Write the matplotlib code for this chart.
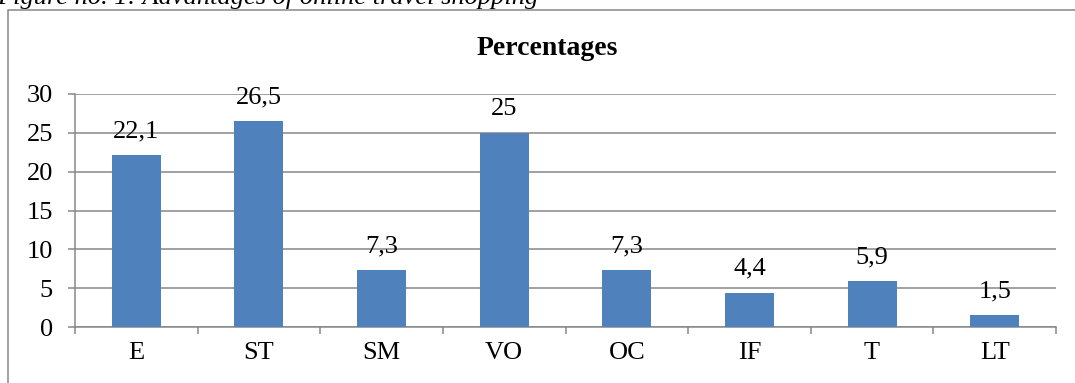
import matplotlib
matplotlib.use("Agg")
import matplotlib.pyplot as plt
from matplotlib.patches import Rectangle
import numpy as np

categories = ["E", "ST", "SM", "VO", "OC", "IF", "T", "LT"]
values = [22.1, 26.5, 7.3, 25, 7.3, 4.4, 5.9, 1.5]
y_ticks = [0, 5, 10, 15, 20, 25, 30]

W, H = 1075, 383
DPI = 100
plt.rcParams["font.family"] = ["Liberation Serif", "DejaVu Serif"]

fig = plt.figure(figsize=(W / DPI, H / DPI), dpi=DPI)
fig.patch.set_facecolor("white")

grey = "#878787"
blue = "#4F81BD"
lw = 1.1

# frame around the chart (runs off the right and bottom edges)
fig.patches.append(Rectangle((8 / W, -0.05), 1.2, 1 - 9.5 / H + 0.05,
                             transform=fig.transFigure, fill=False,
                             edgecolor=grey, linewidth=lw, zorder=0))

# figure caption above the frame
fig.text(-0.003, 1 - 4 / H, "Figure no. 1: Advantages of online travel shopping",
         fontsize=19, fontstyle="italic", ha="left", va="baseline")

left, right = 75 / W, 1056 / W
bottom, top = 1 - 327 / H, 1 - 94 / H
ax = fig.add_axes([left, bottom, right - left, top - bottom])

x = np.arange(len(categories))
ax.bar(x, values, width=0.4, color=blue, zorder=3)

for xi, v in zip(x, values):
    label = f"{v:g}".replace(".", ",")
    ax.annotate(label, (xi, v), xytext=(0, 13), textcoords="offset points",
                ha="center", va="baseline", fontsize=19)

ax.set_xlim(-0.5, len(categories) - 0.5)
ax.set_ylim(0, 30)
ax.set_yticks(y_ticks)
ax.yaxis.grid(True, color=grey, linewidth=lw, zorder=0)
ax.set_axisbelow(True)

ax.set_xticks(x)
ax.set_xticklabels(categories)
ax.set_xticks(np.arange(len(categories) + 1) - 0.5, minor=True)
ax.tick_params(axis="x", which="major", length=0, pad=11, labelsize=19)
ax.tick_params(axis="x", which="minor", length=5, width=lw, color=grey)
ax.tick_params(axis="y", length=5, width=lw, color=grey, pad=11, labelsize=19)

for side in ("top", "right"):
    ax.spines[side].set_visible(False)
for side in ("left", "bottom"):
    ax.spines[side].set_color(grey)
    ax.spines[side].set_linewidth(lw)

fig.text(547 / W, 1 - 55 / H, "Percentages", fontsize=20, fontweight="bold",
         ha="center", va="baseline")

fig.savefig("out.png", dpi=DPI)
